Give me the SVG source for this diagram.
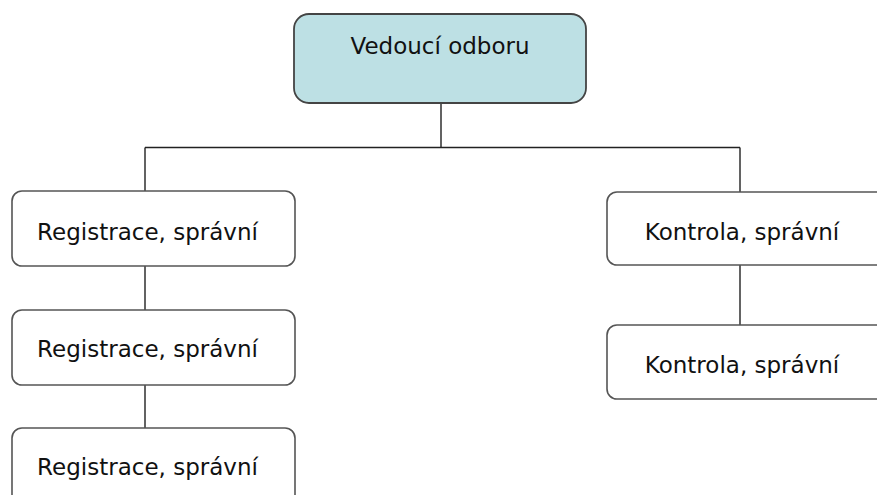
<svg xmlns="http://www.w3.org/2000/svg" width="877" height="495" viewBox="0 0 877 495">
<style>
.box{fill:#ffffff;stroke:#555555;stroke-width:1.6}
.top{fill:#bde0e4;stroke:#444444;stroke-width:1.8}
.lbl{font-family:"DejaVu Sans",sans-serif;font-size:23px;fill:#111111;text-anchor:middle}
.con{fill:none;stroke:#222222;stroke-width:1.4}
</style>
<rect width="877" height="495" fill="#ffffff"/>
<g id="connectors">
<path class="con" d="M441,103 V147.5 M145,147.5 H740 M145,147.5 V191 M740,147.5 V192"/>
<path class="con" d="M145,266 V310 M145,385 V428"/>
<path class="con" d="M740,265 V325"/>
</g>
<g id="n-vedouci">
<rect class="top" x="294" y="14" width="292" height="89" rx="15" ry="15"/>
<text class="lbl" x="440" y="54">Vedoucí odboru</text>
</g>
<g id="n-reg1">
<rect class="box" x="12" y="191" width="283" height="75" rx="10" ry="10"/>
<text class="lbl" x="147.5" y="240">Registrace, správní</text>
</g>
<g id="n-reg2">
<rect class="box" x="12" y="310" width="283" height="75" rx="10" ry="10"/>
<text class="lbl" x="147.5" y="357">Registrace, správní</text>
</g>
<g id="n-reg3">
<rect class="box" x="12" y="428" width="283" height="80" rx="10" ry="10"/>
<text class="lbl" x="147.5" y="475">Registrace, správní</text>
</g>
<g id="n-kon1">
<rect class="box" x="607" y="192" width="283" height="73" rx="10" ry="10"/>
<text class="lbl" x="742" y="240">Kontrola, správní</text>
</g>
<g id="n-kon2">
<rect class="box" x="607" y="325" width="283" height="74" rx="10" ry="10"/>
<text class="lbl" x="742" y="373">Kontrola, správní</text>
</g>
</svg>
